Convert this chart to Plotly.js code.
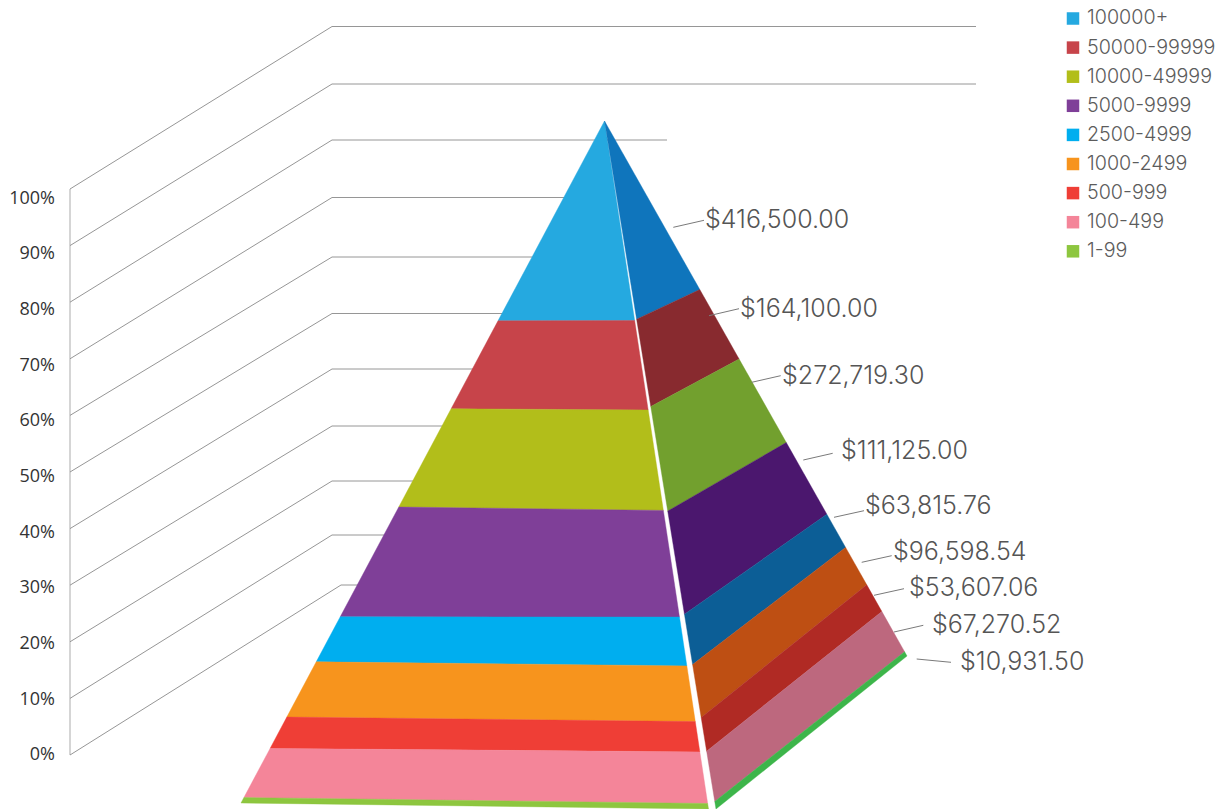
<!DOCTYPE html>
<html>
<head>
<meta charset="utf-8">
<script src="https://cdn.plot.ly/plotly-3.0.1.min.js"></script>
<style>html,body{margin:0;padding:0;background:#fff}#chart{width:1220px;height:809px}</style>
</head>
<body>
<div id="chart"></div>
<script>
// ---- data ----
const categories = ['100000+','50000-99999','10000-49999','5000-9999','2500-4999','1000-2499','500-999','100-499','1-99'];
const amounts = [416500.00,164100.00,272719.30,111125.00,63815.76,96598.54,53607.06,67270.52,10931.50];
const percentTicks = [0,10,20,30,40,50,60,70,80,90,100];

// cumulative depth of each band's lower edge, as read along each pyramid edge (percent of edge length from apex)
const depthLeftEdge   = [29.3,42.2,56.6,72.7,79.3,87.4,92.0,99.2,100];
const depthFrontEdge  = [29.0,42.0,56.6,72.1,79.2,87.3,91.7,99.2,100];
const depthSplitEdge  = [28.8,41.5,56.7,71.7,79.0,86.7,91.6,98.9,100];
const depthRightEdge  = [31.5,44.5,60.1,73.5,79.7,86.7,91.7,99.2,100];

const frontColors = ['#25A9E0','#C7444A','#B2BE1A','#7F3F98','#00AEEF','#F7941D','#EF3E36','#F48599','#8DC63F'];
const sideColors  = ['#0F75BC','#882A2F','#72A02E','#4B176E','#0C5E96','#BE4F13','#B02A24','#BD687E','#3DB54A'];

// ---- projection of the pseudo-3D scene (page pixels) ----
const apex = [604.5,121];
const cornerLeft = [241,803], cornerFront = [708.5,809], cornerSplit = [716,809], cornerRight = [907,656];
const wallFrontX = 70, wallBackX = 332, wallFrontZero = 755, wallFrontStep = 56.6;
const wallBackY = [585,535,481,426,369,313.5,257,197.5,140,84,26.5];
const wallBackEndX = [600,600,600,600,600,600,600,600,667,976,976];
const labelAnchors = [[705,222],[740,311],[782,378],[841,453],[865,508],[893,553.5],[909,590],[932,627],[960,664]];
const leaderStart = [[673.3,227.3],[709,315.7],[751.7,382.3],[803.3,460],[834,517.3],[861.7,562.3],[874,595.3],[894,632],[916.7,659]];
const leaderEnd   = [[704,220.3],[739,308.7],[780.7,375.7],[832.7,453.3],[864,510.7],[891.7,555.7],[904,588.7],[923.3,625.3],[951,662.3]];
const legendSwatchX = 1073, legendTextX = 1087, legendTopY = 18.5, legendStepY = 29.1;

// axis scale
const pxPerPct = 5.565, zeroPx = 754, plotLeft = 56;
const Y = py => (zeroPx - py) / pxPerPct;
const along = (corner, d) => [apex[0] + (corner[0]-apex[0])*d/100, apex[1] + (corner[1]-apex[1])*d/100];

const traces = [];
const wallLine = {color:'#969696', width:1};

// wall and gridlines
traces.push({type:'scatter',mode:'lines',x:[wallFrontX,wallFrontX],y:[Y(wallFrontZero),Y(wallFrontZero-100/10*wallFrontStep)],line:{color:'#ababab',width:1},showlegend:false,hoverinfo:'skip'});
percentTicks.forEach((p,i)=>{
  const fy = wallFrontZero - p/10*wallFrontStep;
  traces.push({type:'scatter',mode:'lines',
    x:[wallFrontX,i===0?341:wallBackX,wallBackEndX[i]],
    y:[Y(fy),Y(wallBackY[i]),Y(wallBackY[i])],
    line:wallLine,showlegend:false,hoverinfo:'skip'});
});

// pyramid faces
function face(depthA,cornerA,depthB,cornerB,colors){
  categories.forEach((c,i)=>{
    const a0=i?depthA[i-1]:0,a1=depthA[i],b0=i?depthB[i-1]:0,b1=depthB[i];
    const pts=[along(cornerA,a0),along(cornerB,b0),along(cornerB,b1),along(cornerA,a1)];
    traces.push({type:'scatter',mode:'lines',fill:'toself',fillcolor:colors[i],
      x:pts.map(p=>p[0]).concat(pts[0][0]),y:pts.map(p=>Y(p[1])).concat(Y(pts[0][1])),
      line:{color:colors[i],width:0.4},showlegend:false,hoverinfo:'skip',name:c});
  });
}
face(depthLeftEdge,cornerLeft,depthFrontEdge,cornerFront,frontColors);
face(depthSplitEdge,cornerSplit,depthRightEdge,cornerRight,sideColors);

// leaders and value labels
amounts.forEach((v,i)=>{
  traces.push({type:'scatter',mode:'lines',x:[leaderStart[i][0],leaderEnd[i][0]],y:[Y(leaderStart[i][1]),Y(leaderEnd[i][1])],
    line:{color:'#7a7a7a',width:1},showlegend:false,hoverinfo:'skip'});
});
traces.push({type:'scatter',mode:'text',
  x:labelAnchors.map(a=>a[0]),y:labelAnchors.map(a=>Y(a[1])),
  text:amounts.map(v=>'$'+v.toLocaleString('en-US',{minimumFractionDigits:2,maximumFractionDigits:2})),
  textposition:'middle right',cliponaxis:false,
  textfont:{family:'"Inter Light", Inter, sans-serif',size:25,color:'#555555',weight:300},
  showlegend:false,hoverinfo:'skip'});

// legend keys
const rowY = categories.map((c,i)=>Y(legendTopY+i*legendStepY));
const rowTextY = categories.map((c,i)=>Y(legendTopY+1+i*legendStepY));
traces.push({type:'scatter',mode:'markers',x:categories.map(()=>legendSwatchX),y:rowY,
  marker:{symbol:'square',size:12.5,color:frontColors,line:{width:0}},showlegend:false,hoverinfo:'skip'});
traces.push({type:'scatter',mode:'text',x:categories.map(()=>legendTextX),y:rowTextY,text:categories,
  textposition:'middle right',cliponaxis:false,
  textfont:{family:'"Inter Light", Inter, sans-serif',size:19.7,color:'#5c5c5c',weight:300},
  showlegend:false,hoverinfo:'skip'});

const layout = {
  width:1220,height:809,
  margin:{l:plotLeft,r:0,t:0,b:0,pad:0},
  paper_bgcolor:'#fff',plot_bgcolor:'#fff',
  hovermode:false,showlegend:false,
  xaxis:{range:[plotLeft,1220],visible:false,fixedrange:true},
  yaxis:{range:[Y(809),Y(0)],tickmode:'array',tickvals:percentTicks,ticktext:percentTicks.map(p=>p+'%'),
    showgrid:false,zeroline:false,showline:false,ticks:'',fixedrange:true,
    tickfont:{family:'"Open Sans", sans-serif',size:18,color:'#333333'}}
};
Plotly.newPlot('chart',traces,layout,{displayModeBar:false,staticPlot:true});
</script>
</body>
</html>
